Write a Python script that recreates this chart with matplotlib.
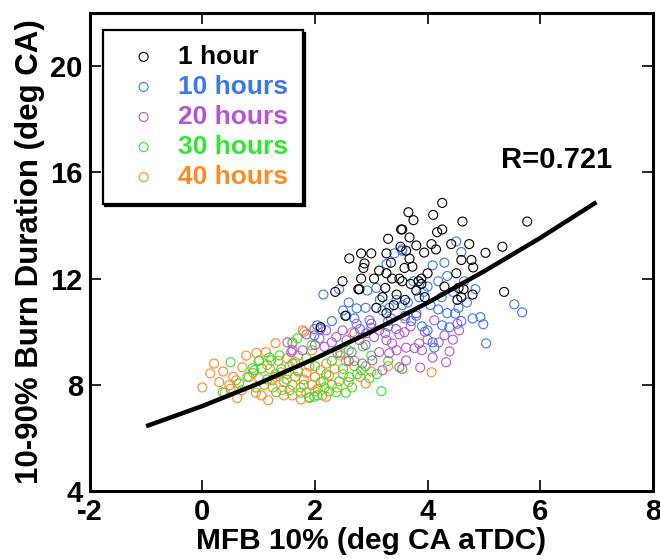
import matplotlib
matplotlib.use('Agg')
import matplotlib.pyplot as plt
import numpy as np

plt.rcParams['font.family'] = ['Liberation Sans', 'DejaVu Sans']
plt.rcParams['font.weight'] = 'bold'
plt.rcParams['axes.unicode_minus'] = False

# --- data ---
labels = ['1 hour', '10 hours', '20 hours', '30 hours', '40 hours']
colors = ['#000000', '#3a78f2', '#b455d8', '#2de82d', '#ff8a22']

x_1h = [4.26, 3.66, 3.75, 4.10, 4.62, 5.77, 3.55, 4.17, 4.26, 3.30, 3.68, 3.00, 2.61, 2.88,
        5.33, 5.03, 4.81, 4.74, 4.42, 4.07, 3.94, 4.15, 4.60, 4.78, 4.51, 5.36, 3.84, 3.68,
        3.59, 3.73, 3.62, 3.80, 3.89, 3.55, 4.64, 4.60, 3.53, 3.52, 2.82, 2.86, 3.27, 3.14,
        3.27, 2.82, 3.05, 2.49, 2.36, 2.77, 3.25, 3.37, 3.50, 2.79, 3.45, 4.80, 3.80, 3.27,
        3.09, 2.54, 4.53, 4.55, 3.89, 2.10, 3.40, 3.60, 3.95, 4.30, 3.35, 3.70, 4.00, 3.20]
y_1h = [14.85, 14.50, 14.20, 14.40, 14.15, 14.15, 13.85, 13.75, 13.85, 13.50, 13.55, 12.95,
        12.76, 12.57, 13.20, 12.97, 12.42, 13.30, 13.30, 13.30, 12.98, 13.10, 12.70, 12.70,
        12.20, 11.50, 11.90, 12.75, 12.40, 12.45, 13.05, 13.25, 12.00, 11.90, 11.60, 11.30,
        13.85, 13.20, 12.95, 12.40, 12.95, 12.30, 12.20, 12.00, 12.00, 11.90, 11.50, 11.60,
        11.65, 12.00, 12.00, 11.60, 11.40, 11.40, 11.55, 10.70, 10.90, 10.60, 11.20, 11.65,
        11.80, 10.17, 11.00, 11.20, 11.30, 11.70, 12.60, 11.80, 12.20, 11.30]

x_10h = [2.15, 2.43, 2.93, 3.09, 3.27, 3.41, 3.55, 4.51, 4.60, 4.09, 4.35, 4.19, 3.93, 3.55,
         5.54, 5.68, 5.04, 4.94, 4.99, 4.09, 4.12, 4.00, 4.26, 4.39, 3.55, 3.71, 4.19, 4.35,
         4.49, 1.99, 2.10, 2.50, 2.70, 2.90, 3.00, 3.20, 3.35, 3.45, 3.65, 3.80, 3.85, 4.05,
         4.25, 4.45, 4.65, 4.70, 4.80, 4.55, 3.90, 3.60, 3.15, 2.60, 2.30, 2.80, 4.30, 4.00,
         4.60, 4.85, 3.75, 3.30, 2.74, 2.56, 2.04, 3.32]
y_10h = [11.40, 11.60, 11.55, 11.65, 12.55, 12.95, 13.10, 13.40, 13.00, 12.50, 12.10, 11.90,
         11.50, 13.05, 11.03, 10.73, 9.56, 10.55, 10.28, 9.60, 9.40, 10.05, 10.24, 10.17,
         11.00, 10.40, 10.84, 10.70, 10.68, 9.86, 10.10, 10.80, 10.50, 10.90, 10.30, 10.80,
         10.50, 11.20, 11.10, 10.70, 11.30, 11.00, 11.30, 11.50, 11.90, 11.10, 10.50, 10.90,
         10.20, 10.60, 11.20, 11.10, 10.40, 10.10, 12.60, 11.70, 10.40, 11.60, 11.90, 10.20,
         10.88, 10.60, 10.24, 10.90]

x_20h = [4.39, 4.33, 4.09, 3.87, 3.62, 3.62, 3.77, 3.85, 4.56, 4.30, 4.53, 4.12, 3.59, 2.38,
         2.56, 2.79, 2.49, 2.74, 2.91, 3.14, 3.27, 3.44, 2.97, 2.20, 1.78, 1.58, 2.65, 3.14,
         3.32, 3.50, 3.02, 2.84, 3.20, 3.37, 1.51, 1.60, 1.99, 2.08, 2.17, 2.40, 2.60, 2.90,
         3.05, 3.30, 3.50, 3.70, 3.95, 4.20, 4.45, 2.30, 2.00, 1.85, 3.00, 3.60, 3.90, 3.45,
         2.70, 3.25, 3.80, 4.00]
y_20h = [9.26, 8.85, 9.03, 8.65, 8.92, 9.40, 9.38, 9.56, 10.05, 9.86, 10.30, 10.43, 9.98,
         9.80, 9.68, 9.68, 10.05, 10.30, 9.94, 10.05, 9.68, 10.10, 10.43, 10.05, 9.30, 9.23,
         9.23, 9.23, 9.19, 8.66, 8.92, 8.80, 8.55, 9.56, 9.60, 9.30, 10.10, 9.75, 9.43, 9.20,
         8.90, 9.50, 9.80, 10.40, 9.90, 10.20, 10.00, 9.60, 9.70, 9.60, 9.50, 9.90, 10.15,
         10.50, 9.30, 9.30, 9.95, 9.95, 10.60, 9.70]

x_30h = [0.50, 0.36, 1.37, 1.19, 0.92, 1.05, 1.31, 1.60, 1.69, 1.94, 0.89, 1.01, 1.22, 1.99,
         3.18, 2.66, 2.43, 2.61, 2.97, 2.82, 2.04, 1.90, 2.38, 2.17, 3.55, 1.50, 1.70, 1.80,
         2.00, 2.20, 2.30, 2.50, 2.70, 2.90, 3.00, 3.30, 1.40, 1.15, 0.80, 0.65, 1.55, 1.75,
         2.10, 2.45, 2.75, 1.85, 2.60, 3.10, 1.30, 0.95, 2.25, 1.60, 2.85, 2.55]
y_30h = [8.85, 7.72, 9.11, 9.03, 8.55, 8.62, 7.72, 9.60, 9.75, 9.49, 8.62, 8.92, 8.92, 7.55,
         7.76, 7.90, 8.13, 8.29, 8.25, 8.55, 7.60, 7.53, 7.72, 7.90, 8.60, 8.20, 8.50, 8.00,
         8.70, 8.40, 8.90, 8.60, 8.90, 8.70, 9.10, 8.90, 8.60, 8.20, 8.30, 8.05, 7.80, 7.70,
         8.10, 9.20, 8.40, 9.00, 9.30, 8.40, 8.40, 7.90, 7.75, 8.80, 9.45, 7.70]

x_40h = [0.00, 0.14, 0.21, 0.37, 0.62, 0.78, 0.96, 1.13, 1.30, 1.81, 1.17, 1.90, 2.13, 1.42,
         0.48, 0.71, 0.83, 0.60, 1.01, 1.24, 1.40, 4.07, 3.55, 1.78, 1.60, 2.66, 1.20, 1.30,
         1.45, 1.50, 1.55, 1.60, 1.65, 1.70, 1.75, 1.80, 1.85, 1.90, 1.95, 2.00, 2.05, 2.10,
         2.15, 2.20, 2.25, 2.30, 2.35, 2.40, 1.35, 1.50, 1.70, 1.10, 0.95, 1.00, 0.90, 0.50,
         0.55, 0.40, 1.60, 1.75, 2.00, 1.25, 2.50, 2.60, 2.70, 2.90, 3.00, 2.45, 1.45, 1.65,
         1.85, 2.55, 2.80, 3.30, 1.15, 0.70, 0.30, 1.95, 2.20, 1.05]
y_40h = [7.90, 8.43, 8.80, 8.50, 7.50, 9.10, 9.20, 9.23, 9.57, 10.00, 7.42, 7.50, 7.60, 7.80,
         7.98, 8.66, 8.29, 8.17, 8.25, 8.17, 8.47, 8.47, 8.60, 10.05, 9.56, 9.98, 8.60, 8.30,
         8.10, 8.40, 8.70, 8.00, 8.30, 8.55, 7.90, 8.20, 8.45, 8.70, 8.00, 8.30, 7.85, 8.55,
         8.15, 8.80, 8.35, 8.00, 8.60, 7.90, 8.90, 9.00, 9.10, 8.00, 7.70, 8.90, 8.45, 7.85,
         8.30, 7.70, 7.60, 7.45, 7.75, 7.90, 8.40, 8.10, 8.70, 8.05, 8.50, 9.10, 7.60, 8.85,
         7.70, 8.90, 8.30, 8.70, 8.75, 7.80, 8.10, 9.30, 7.55, 7.60]

# fitted curve, read at integer steps
fit_x = [-1, 0, 1, 2, 3, 4, 5, 6, 7]
fit_y = [6.44, 7.20, 8.05, 8.99, 10.00, 11.09, 12.27, 13.53, 14.88]
r_text = 'R=0.721'

series_x = [x_1h, x_10h, x_20h, x_30h, x_40h]
series_y = [y_1h, y_10h, y_20h, y_30h, y_40h]

fig = plt.figure(figsize=(6.6, 5.59), dpi=100)
ax = fig.add_axes([0.136, 0.1216, 0.853, 0.855])

# draw later series first so 1 hour ends up on top
for i in [4, 3, 2, 1, 0]:
    ax.scatter(series_x[i], series_y[i], s=42, facecolors='none',
               edgecolors=colors[i], linewidths=0.8, label=labels[i], zorder=2 + (5 - i) * 0.1)

ax.plot(fit_x, fit_y, color='black', lw=3.2, solid_capstyle='butt', zorder=5)
ax.text(6.3, 16.45, r_text, fontsize=21, fontweight='bold', ha='center', va='center')

ax.set_xlim(-2, 8)
ax.set_ylim(4, 22)
ax.set_xticks([-2, 0, 2, 4, 6, 8])
ax.set_yticks([4, 8, 12, 16, 20])
ax.tick_params(direction='in', length=8, width=1.2, top=True, right=True,
               labelsize=21, pad=5)
for sp in ax.spines.values():
    sp.set_linewidth(2.2)

ax.set_xlabel('MFB 10% (deg CA aTDC)', fontsize=21.5, fontweight='bold', labelpad=1)
ax.set_ylabel('10-90% Burn Duration (deg CA)', fontsize=22.5, fontweight='bold', labelpad=4)

handles, labs = ax.get_legend_handles_labels()
order = [labs.index(l) for l in labels]
leg = ax.legend([handles[k] for k in order], labels, loc='upper left',
                bbox_to_anchor=(0.023, 0.964), borderaxespad=0, fontsize=19,
                frameon=True, fancybox=False, edgecolor='black', framealpha=1,
                shadow={'color': 'black', 'alpha': 1}, handletextpad=0.3,
                labelspacing=0.23, borderpad=0.55, handlelength=2.0)
leg.get_frame().set_linewidth(1.6)
for t, c in zip(leg.get_texts(), colors):
    t.set_color(c)
    t.set_fontweight('bold')

fig.savefig('out.png', dpi=100)
